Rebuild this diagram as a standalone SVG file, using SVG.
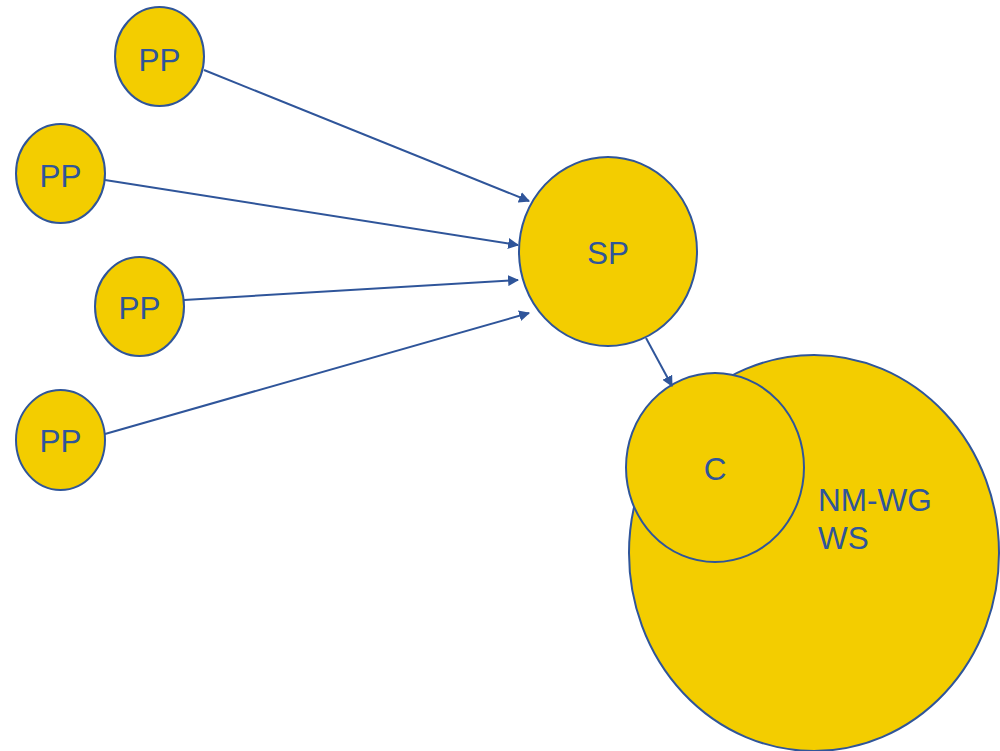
<svg xmlns="http://www.w3.org/2000/svg" width="1000" height="751" viewBox="0 0 1000 751">
<defs>
<style>
.n{fill:#F3CD00;stroke:#2F559A;stroke-width:2}
.t{font-family:"Liberation Sans",Arial,sans-serif;font-size:31.5px;fill:#2F559A;text-anchor:middle}
.c{stroke:#2F559A;stroke-width:2;fill:none;marker-end:url(#a)}
</style>
<marker id="a" viewBox="0 0 10 10" refX="9" refY="5" markerWidth="5.5" markerHeight="5.5" orient="auto" markerUnits="strokeWidth">
<path d="M0,0 L10,5 L0,10 z" fill="#2F559A"/>
</marker>
</defs>
<rect width="1000" height="751" fill="#fff"/>
<g id="nmwg">
<ellipse class="n" cx="814" cy="553" rx="185" ry="198"/>
<text class="t" x="818" y="511" style="text-anchor:start">NM-WG</text>
<text class="t" x="818" y="549" style="text-anchor:start">WS</text>
</g>
<g id="c">
<ellipse class="n" cx="715" cy="467.5" rx="89" ry="94.5"/>
<text class="t" x="715" y="480">C</text>
</g>
<g id="sp">
<ellipse class="n" cx="608" cy="251.5" rx="89" ry="94.5"/>
<text class="t" x="608" y="264">SP</text>
</g>
<g id="pp1">
<ellipse class="n" cx="159.5" cy="56.5" rx="44.5" ry="49.5"/>
<text class="t" x="159.5" y="71">PP</text>
</g>
<g id="pp2">
<ellipse class="n" cx="60.5" cy="173.5" rx="44.5" ry="49.5"/>
<text class="t" x="60.5" y="187">PP</text>
</g>
<g id="pp3">
<ellipse class="n" cx="139.5" cy="306.5" rx="44.5" ry="49.5"/>
<text class="t" x="139.5" y="319">PP</text>
</g>
<g id="pp4">
<ellipse class="n" cx="60.5" cy="440" rx="44.5" ry="50"/>
<text class="t" x="60.5" y="452">PP</text>
</g>
<g id="connectors">
<line class="c" x1="204" y1="70" x2="529" y2="201"/>
<line class="c" x1="105" y1="180" x2="518" y2="245"/>
<line class="c" x1="184" y1="300" x2="518" y2="280"/>
<line class="c" x1="105" y1="434" x2="529" y2="313"/>
<line class="c" x1="646" y1="338" x2="672" y2="386"/>
</g>
</svg>
